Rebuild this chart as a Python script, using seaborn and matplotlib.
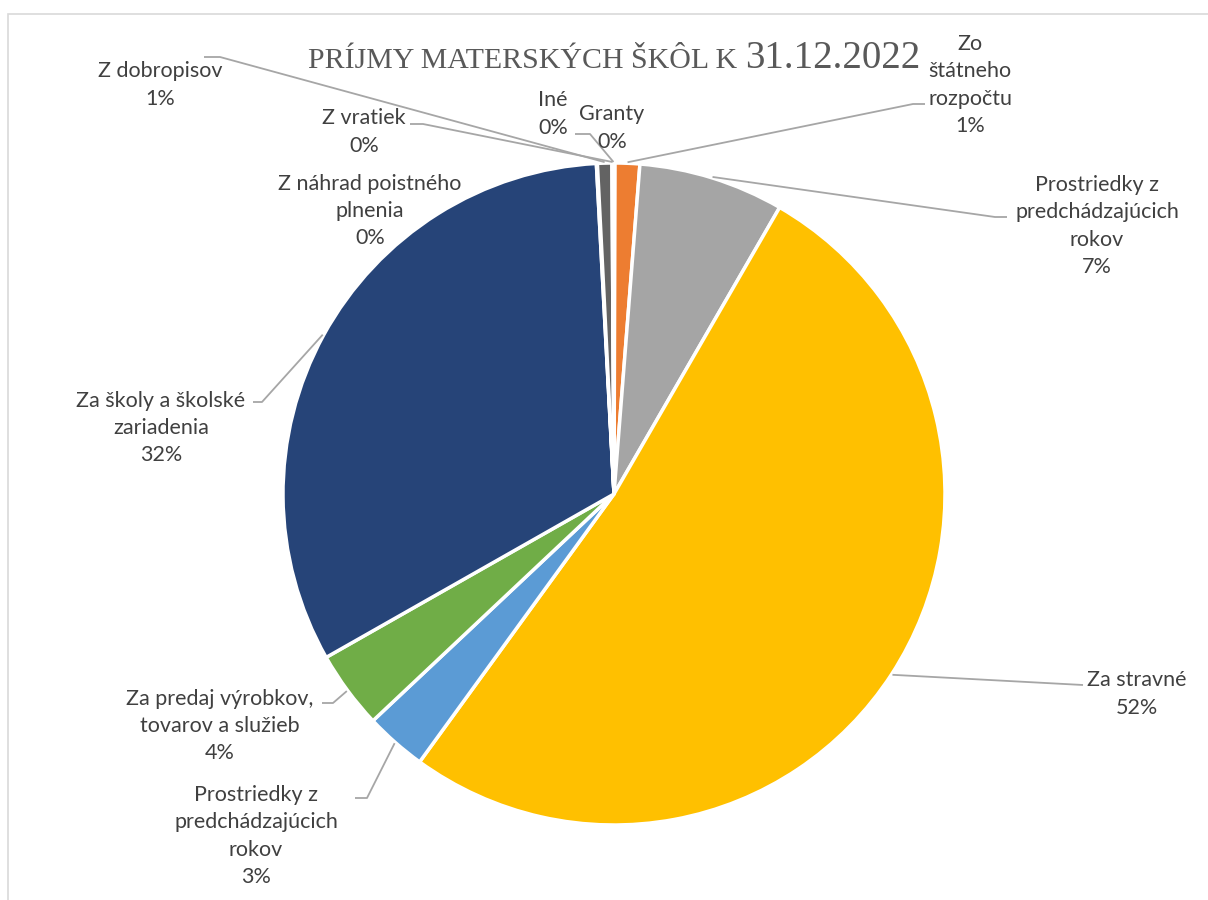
import numpy as np
import seaborn as sns
import matplotlib.pyplot as plt
from matplotlib.patches import Rectangle

# Data (order = Excel series order, clockwise from 12 o'clock)
categories = ["Granty", "Zo\nštátneho\nrozpočtu", "Prostriedky z\npredchádzajúcich\nrokov",
              "Za stravné", "Prostriedky z\npredchádzajúcich\nrokov",
              "Za predaj výrobkov,\ntovarov a služieb", "Za školy a školské\nzariadenia",
              "Z náhrad poistného\nplnenia", "Z dobropisov", "Z vratiek", "Iné"]
shares = [0.05, 1.2, 7.1, 51.7, 3.0, 3.8, 32.4, 0.05, 0.7, 0.05, 0.05]
title_left = "PRÍJMY MATERSKÝCH ŠKÔL K"
title_date = "31.12.2022"

# Excel office palette
colors = ["#4472C4", "#ED7D31", "#A5A5A5", "#FFC000", "#5B9BD5", "#70AD47",
          "#264478", "#9E480E", "#636363", "#997300", "#255E91"]

# label layout in pixels (centre of text block), leader elbow + end points
label_pos = [(612, 128), (970, 85), (1097, 226), (1137, 694), (256, 836), (220, 726),
             (161, 428), (370, 211), (160, 85), (364, 132), (553, 114)]
leaders = [None, ((913, 104), (925, 104)), ((995, 217), (1007, 217)),
           ((1083, 685), (1083, 685)), ((367, 798), (355, 798)), ((333, 703), (322, 703)),
           ((262, 402), (253, 402)), None, ((220, 57), (204, 57)),
           ((423, 124), (410, 124)), ((590, 134), (575, 134))]

W, H = 1208, 900
CX, CY, R = 614, 494, 331


def P(x, y):
    return (x, H - y)


sns.set_theme(style="white")
plt.rcParams['font.family'] = ['Lato', 'DejaVu Sans']

fig = plt.figure(figsize=(W / 100, H / 100), dpi=100)
ax = fig.add_axes([0, 0, 1, 1])

wedges, _ = ax.pie(shares, colors=colors, startangle=90, counterclock=False,
                   radius=R, center=P(CX, CY),
                   wedgeprops=dict(edgecolor="white", linewidth=2.5))

total = sum(shares)
txt_col = "#404040"
line_col = "#A6A6A6"
for w, lab, v, pos, ld in zip(wedges, categories, shares, label_pos, leaders):
    pct = round(v / total * 100)
    ax.text(*P(*pos), f"{lab}\n{pct}%", ha="center", va="center",
            fontsize=15.5, color=txt_col, linespacing=1.46)
    if ld is None:
        continue
    mid = np.deg2rad((w.theta1 + w.theta2) / 2)
    ax_x = CX + (R + 1) * np.cos(mid)
    ax_y = CY - (R + 1) * np.sin(mid)
    xs = [ax_x, ld[0][0], ld[1][0]]
    ys = [H - ax_y, H - ld[0][1], H - ld[1][1]]
    ax.plot(xs, ys, color=line_col, lw=1.3, solid_capstyle="butt")

# title
ax.text(*P(737, 68), title_left, ha="right", va="baseline",
        fontsize=21.5, color="#595959", family="Liberation Serif")
ax.text(*P(745, 68), title_date, ha="left", va="baseline",
        fontsize=28, color="#595959", family="Liberation Serif")

# chart frame
ax.add_patch(Rectangle(P(8, 920), 1300, 906, fill=False, edgecolor="#D9D9D9", lw=1.2))

ax.set_xlim(0, W)
ax.set_ylim(0, H)
ax.set_aspect("equal")
ax.axis("off")

fig.savefig("out.png", dpi=100)
